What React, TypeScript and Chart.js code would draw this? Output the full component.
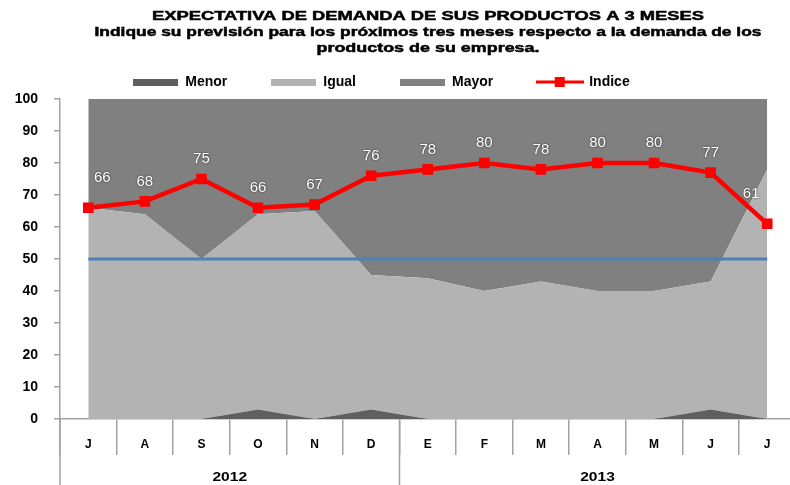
import React, { useEffect, useRef } from 'react';
import { Chart, registerables } from 'chart.js';

Chart.register(...registerables);

const FONT = "'Liberation Sans', Arial, sans-serif";

const titleLines = [
  'EXPECTATIVA DE DEMANDA DE SUS PRODUCTOS A 3 MESES',
  'Indique su previsión para los próximos tres meses respecto a la demanda de los',
  'productos de su empresa.',
];

const months = ['J', 'A', 'S', 'O', 'N', 'D', 'E', 'F', 'M', 'A', 'M', 'J', 'J'];
const years = ['2012', '2013'];
const monthsPerYear = [6, 7];

const menor = [0, 0, 0, 3, 0, 3, 0, 0, 0, 0, 0, 3, 0];
const igual = [66, 64, 50, 61, 65, 42, 44, 40, 43, 40, 40, 40, 78];
const mayor = [34, 36, 50, 36, 35, 55, 56, 60, 57, 60, 60, 57, 22];
const indice = [66, 68, 75, 66, 67, 76, 78, 80, 78, 80, 80, 77, 61];
const referencia = [50, 50, 50, 50, 50, 50, 50, 50, 50, 50, 50, 50, 50];

const C_MENOR = '#5f5f5f';
const C_IGUAL = '#b3b3b3';
const C_MAYOR = '#808080';
const C_RED = '#ff0000';
const C_BLUE = '#4f7fbd';
const C_AXIS = '#a3a3a3';

const CANVAS_W = 803;

function makeIcon(w: number, h: number, draw: (ctx: CanvasRenderingContext2D) => void) {
  const c = document.createElement('canvas');
  c.width = w;
  c.height = h;
  const ctx = c.getContext('2d')!;
  draw(ctx);
  return c;
}

const titlePlugin = {
  id: 'stretchTitle',
  afterDraw(chart: any) {
    const ctx = chart.ctx as CanvasRenderingContext2D;
    const targets = [552, 667, 223];
    const ys = [16, 32, 48];
    ctx.save();
    ctx.fillStyle = '#000';
    ctx.strokeStyle = '#000';
    ctx.lineWidth = 0.5;
    ctx.textAlign = 'center';
    ctx.textBaseline = 'middle';
    ctx.font = `bold 13px ${FONT}`;
    titleLines.forEach((t, i) => {
      const w = ctx.measureText(t).width;
      const sx = targets[i] / w;
      ctx.save();
      ctx.translate(428, ys[i]);
      ctx.scale(sx, 1);
      ctx.fillText(t, 0, 0);
      ctx.strokeText(t, 0, 0);
      ctx.restore();
    });
    ctx.restore();
  },
};

const legendShiftPlugin = {
  id: 'legendShift',
  afterLayout(chart: any) {
    if (chart.legend) chart.legend.left -= 40;
  },
};

const yearPlugin = {
  id: 'yearRow',
  afterDraw(chart: any) {
    const ctx = chart.ctx as CanvasRenderingContext2D;
    const xs = chart.scales.x;
    ctx.save();
    ctx.strokeStyle = C_AXIS;
    ctx.lineWidth = 1.5;
    ctx.fillStyle = '#000';
    ctx.textAlign = 'center';
    ctx.textBaseline = 'middle';
    ctx.font = `bold 12px ${FONT}`;
    let start = 0;
    years.forEach((yr, k) => {
      const left = xs.getPixelForValue(start - 0.5);
      const right = xs.getPixelForValue(start + monthsPerYear[k] - 0.5);
      ctx.beginPath();
      ctx.moveTo(left, xs.top);
      ctx.lineTo(left, chart.height);
      ctx.stroke();
      ctx.save();
      ctx.translate((left + right) / 2, 478);
      ctx.scale(1.3, 1);
      ctx.fillText(yr, 0, 0);
      ctx.restore();
      start += monthsPerYear[k];
    });
    ctx.restore();
  },
};

const labelPlugin = {
  id: 'indiceLabels',
  afterDatasetsDraw(chart: any) {
    const ctx = chart.ctx as CanvasRenderingContext2D;
    const meta = chart.getDatasetMeta(3);
    const vals = chart.data.datasets[3].data as number[];
    const last = vals.length - 1;
    ctx.save();
    ctx.font = `15px ${FONT}`;
    ctx.textAlign = 'center';
    ctx.textBaseline = 'middle';
    ctx.fillStyle = '#ffffff';
    ctx.shadowColor = 'rgba(0,0,0,0.75)';
    ctx.shadowBlur = 2;
    meta.data.forEach((pt: any, i: number) => {
      const dx = i === 0 ? 14 : i === last ? -16 : 0;
      const dy = i === 0 || i === last ? -30 : -20;
      ctx.fillText(String(vals[i]), pt.x + dx, pt.y + dy);
    });
    ctx.restore();
  },
};

export default function App() {
  const ref = useRef<HTMLCanvasElement>(null);

  useEffect(() => {
    if (!ref.current) return;
    const icons = [
      makeIcon(45, 7, (c) => { c.fillStyle = C_MENOR; c.fillRect(0, 0, 45, 7); }),
      makeIcon(45, 7, (c) => { c.fillStyle = C_IGUAL; c.fillRect(0, 0, 45, 7); }),
      makeIcon(45, 7, (c) => { c.fillStyle = C_MAYOR; c.fillRect(0, 0, 45, 7); }),
      makeIcon(48, 12, (c) => {
        c.fillStyle = C_RED;
        c.fillRect(0, 4.5, 48, 3);
        c.fillRect(19, 1, 10, 10);
      }),
    ];

    const chart = new Chart(ref.current, {
      type: 'line',
      data: {
        labels: months,
        datasets: [
          { label: 'Menor', data: menor, stack: 'areas', fill: 'origin', backgroundColor: C_MENOR, borderColor: 'rgba(0,0,0,0)', borderWidth: 0, pointRadius: 0, tension: 0 },
          { label: 'Igual', data: igual, stack: 'areas', fill: '-1', backgroundColor: C_IGUAL, borderColor: 'rgba(0,0,0,0)', borderWidth: 0, pointRadius: 0, tension: 0 },
          { label: 'Mayor', data: mayor, stack: 'areas', fill: '-1', backgroundColor: C_MAYOR, borderColor: 'rgba(0,0,0,0)', borderWidth: 0, pointRadius: 0, tension: 0 },
          { label: 'Indice', data: indice, stack: 'indice', fill: false, borderColor: C_RED, backgroundColor: C_RED, borderWidth: 4.5, pointStyle: 'rect', pointRadius: 7.5, pointBackgroundColor: C_RED, pointBorderColor: C_RED, pointBorderWidth: 0, tension: 0 },
          { label: 'Referencia', data: referencia, stack: 'ref', fill: false, borderColor: C_BLUE, borderWidth: 3, pointRadius: 0, tension: 0 },
        ],
      } as any,
      options: {
        animation: false,
        responsive: false,
        devicePixelRatio: 1,
        layout: { padding: { top: 31, left: 0, right: 0, bottom: 0 } },
        plugins: {
          filler: { drawTime: 'beforeDatasetsDraw' },
          tooltip: { enabled: false },
          title: { display: false },
          legend: {
            position: 'top',
            labels: {
              usePointStyle: true,
              pointStyleWidth: 45,
              padding: 44,
              color: '#000',
              font: { family: FONT, size: 14, weight: 'bold' },
              generateLabels: (c: any) =>
                (Chart.defaults.plugins.legend.labels as any)
                  .generateLabels(c)
                  .filter((it: any) => it.datasetIndex < 4)
                  .map((it: any) => ({ ...it, pointStyle: icons[it.datasetIndex] })),
            },
          },
        } as any,
        scales: {
          x: {
            offset: true,
            grid: { offset: true, drawOnChartArea: false, drawTicks: true, tickLength: 36, color: C_AXIS, lineWidth: 1.5 },
            border: { color: C_AXIS, width: 1.5 },
            ticks: { color: '#000', font: { family: FONT, size: 12, weight: 'bold' }, padding: -18, maxRotation: 0, autoSkip: false },
            afterFit: (s: any) => { s.height = 66; },
          },
          y: {
            stacked: true,
            min: 0,
            max: 100,
            ticks: { stepSize: 10, color: '#000', font: { family: FONT, size: 14, weight: 'bold' }, padding: 16 },
            grid: { drawOnChartArea: false, drawTicks: true, tickLength: 6, color: C_AXIS, lineWidth: 1.5 },
            border: { color: C_AXIS, width: 1.5 },
            afterFit: (s: any) => { s.width = 60; },
          },
        } as any,
      },
      plugins: [titlePlugin, legendShiftPlugin, yearPlugin, labelPlugin],
    });
    return () => chart.destroy();
  }, []);

  return (
    <div style={{ position: 'fixed', left: 0, top: 0, width: 790, height: 485, overflow: 'hidden', background: '#fff' }}>
      <canvas ref={ref} width={CANVAS_W} height={485} style={{ display: 'block', width: CANVAS_W, height: 485 }} />
    </div>
  );
}
